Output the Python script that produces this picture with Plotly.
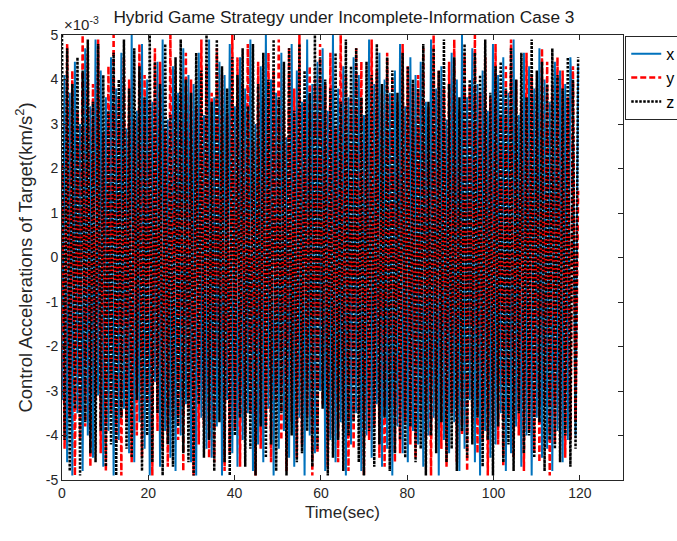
import numpy as np
import plotly.graph_objects as go

# Values in units of 1e-3 km/s^2 (axis shows x10^-3)
x_vals = [
    -3.2, 4.1, -4.6, 3.7, -4.9, 4.4, -3.5, 3.0, -4.8, 4.7,
    -4.0, 3.4, -4.5, 4.9, -3.1, 4.2, -4.7, 3.6, -3.9, 4.5,
    -4.9, 3.8, -4.1, 4.6, -3.4, 2.9, -4.4, 5.0, -4.6, 3.3,
    -3.7, 4.8, -4.3, 4.0, -4.9, 3.5, -2.8, 4.4, -4.7, 4.9,
    -3.9, 3.1, -4.5, 4.3, -4.8, 3.7, -4.0, 4.7, -3.3, 4.1,
    -4.6, 3.9, -4.9, 4.6, -3.6, 3.2, -4.3, 4.9, -4.5, 3.6,
    -3.8, 4.4, -4.9, 4.1, -3.2, 4.8, -4.4, 3.4, -4.7, 4.5,
    -4.1, 3.8, -3.5, 4.9, -4.8, 3.0, -4.2, 4.3, -4.6, 5.0,
    -3.4, 4.0, -4.9, 3.7, -4.3, 4.6, -3.9, 2.7, -4.5, 4.8,
    -4.7, 4.2, -3.6, 3.5, -4.9, 4.9, -4.0, 3.9, -4.4, 4.4,
    -3.0, 4.7, -4.8, 3.3, -4.1, 5.0, -4.6, 3.8, -3.7, 4.3,
    -4.9, 3.6, -4.2, 4.5, -3.5, 4.1, -4.8, 3.2, -4.0, 4.9,
    -4.5, 3.9, -3.3, 4.6, -4.7, 4.0, -4.3, 3.7, -4.9, 4.2,
    -3.8, 4.8, -4.4, 3.4, -4.6, 4.5, -3.9, 4.1, -4.2, 4.4,
    -4.7, 3.5, -4.0, 4.9, -3.6, 3.8, -4.9, 4.3, -4.1, 3.1,
    -4.4, 4.6, -3.7, 4.0, -4.8, 5.0, -4.3, 3.6, -3.2, 4.7,
    -4.6, 3.9, -4.9, 4.2, -3.9, 3.3, -4.5, 4.8, -4.2, 4.1,
    -3.5, 4.5, -4.8, 3.7, -4.4, 4.9, -3.8, 3.2, -4.7, 4.6,
    -4.0, 4.3, -4.9, 3.8, -3.6, 4.7, -4.5, 4.0, -4.3, 3.5,
    -4.8, 4.4, -3.9, 4.2, -4.6, 3.9, -4.1, 4.5, 2.9, -4.0,
    4.3,
]
y_vals = [
    2.1, -4.3, 4.8, -3.6, 4.2, -4.9, 3.3, -4.1, 5.0, -3.8,
    4.6, -4.7, 3.9, -3.2, 4.9, -4.4, 2.8, -4.8, 4.3, -3.5,
    5.0, -4.2, 3.6, -4.9, 4.5, -3.7, 4.0, -4.6, 3.1, -4.0,
    4.8, -4.5, 4.1, -3.3, 3.5, -4.9, 4.7, -3.9, 4.4, -4.3,
    2.9, -4.7, 5.0, -3.6, 4.2, -4.1, 3.8, -4.8, 4.6, -3.4,
    4.0, -4.9, 3.4, -4.2, 4.9, -3.8, 4.3, -4.5, 3.7, -4.6,
    4.7, -3.1, 4.1, -4.8, 3.2, -4.4, 5.0, -3.9, 4.5, -4.7,
    3.9, -4.0, 4.8, -3.5, 2.6, -4.9, 4.4, -4.3, 3.6, -3.8,
    4.6, -4.6, 4.2, -3.2, 4.9, -4.1, 3.3, -4.8, 4.7, -3.7,
    3.8, -4.5, 5.0, -4.2, 3.5, -3.6, 4.3, -4.9, 4.0, -4.4,
    4.8, -3.3, 3.9, -4.7, 4.6, -4.0, 2.9, -4.6, 5.0, -3.9,
    4.1, -4.8, 3.6, -4.3, 4.7, -3.5, 4.4, -4.9, 3.2, -4.1,
    4.9, -3.8, 4.2, -4.5, 3.7, -4.7, 4.6, -3.4, 4.0, -4.6,
    3.5, -4.4, 4.8, -3.7, 4.3, -4.2, 3.9, -4.5, 4.1, -3.6,
    4.7, -4.1, 3.4, -4.9, 5.0, -3.9, 4.2, -4.3, 3.8, -4.7,
    4.4, -3.5, 4.9, -4.6, 3.3, -4.0, 4.6, -4.8, 3.9, -3.7,
    5.0, -4.4, 3.7, -4.1, 4.5, -4.9, 3.6, -3.8, 4.8, -4.2,
    3.2, -4.7, 4.3, -3.6, 4.9, -4.5, 4.0, -4.0, 3.5, -4.8,
    4.6, -3.9, 4.1, -4.4, 3.8, -4.6, 4.7, -3.3, 4.4, -4.9,
    3.9, -4.2, 4.5, -3.8, 4.2, -4.5, 3.6, -4.1, 4.3, -3.7,
    1.5,
]
z_vals = [
    5.0, -4.1, 4.7, -4.8, 3.9, -3.4, 4.5, -4.9, 4.2, -3.7,
    4.9, -4.4, 3.5, -4.6, 4.8, -3.9, 4.1, -4.7, 3.3, -4.2,
    4.6, -4.9, 4.0, -3.6, 4.9, -4.3, 3.8, -4.5, 4.7, -3.2,
    4.3, -4.8, 3.6, -4.0, 5.0, -4.6, 4.4, -3.5, 3.9, -4.9,
    4.8, -4.2, 3.2, -4.7, 4.5, -3.8, 4.9, -4.4, 4.0, -4.6,
    3.7, -4.9, 4.6, -3.3, 4.2, -4.5, 5.0, -4.1, 3.5, -4.8,
    4.9, -3.7, 4.3, -4.6, 3.8, -4.9, 4.5, -4.0, 4.1, -3.6,
    4.7, -4.7, 3.4, -4.3, 4.8, -4.9, 3.9, -3.8, 4.6, -4.5,
    4.0, -4.2, 4.9, -4.8, 3.6, -3.5, 4.4, -4.9, 4.7, -4.0,
    3.3, -4.6, 4.8, -4.4, 4.2, -3.9, 3.7, -4.7, 5.0, -4.3,
    4.5, -3.4, 4.0, -4.9, 3.8, -4.5, 4.6, -4.1, 3.5, -4.8,
    4.9, -4.0, 4.3, -3.7, 4.7, -4.6, 3.6, -4.9, 4.4, -3.9,
    4.1, -4.7, 4.8, -4.2, 3.9, -3.6, 4.5, -4.8, 4.2, -4.4,
    3.7, -4.1, 4.6, -4.5, 4.3, -3.8, 4.0, -4.6, 3.8, -4.3,
    4.8, -4.9, 3.5, -4.0, 4.7, -4.4, 4.2, -3.7, 4.9, -4.6,
    3.9, -4.3, 4.5, -4.8, 3.6, -3.9, 4.8, -4.5, 4.0, -4.2,
    4.6, -3.6, 4.1, -4.7, 4.9, -4.1, 3.7, -4.9, 4.3, -3.8,
    4.4, -4.6, 3.8, -4.2, 4.7, -4.8, 4.0, -3.5, 4.6, -4.4,
    3.6, -4.0, 4.9, -4.5, 4.2, -3.7, 4.4, -4.8, 3.9, -4.1,
    4.7, -4.3, 4.1, -4.6, 3.8, -4.0, 4.5, -4.7, 4.0, -4.3,
    4.5,
]
t_end = 119.6
time = np.linspace(0, t_end, len(x_vals))

x_ticks = [0, 20, 40, 60, 80, 100, 120]
y_ticks = [-5, -4, -3, -2, -1, 0, 1, 2, 3, 4, 5]

series = [
    ("x", x_vals, "#0072BD", "solid", 2),
    ("y", y_vals, "#FF0000", "6px,3px", 2.5),
    ("z", z_vals, "#000000", "2.5px,1.5px", 2.5),
]

fig = go.Figure()
for name, vals, color, dash, w in series:
    fig.add_trace(go.Scatter(
        x=time, y=vals, mode="lines", name=name,
        line=dict(color=color, width=w, dash=dash),
    ))

font_family = "Liberation Sans, Arial, sans-serif"
axis_common = dict(
    showline=True, linecolor="#262626", linewidth=1, mirror="ticks",
    ticks="inside", ticklen=5, tickcolor="#262626",
    showgrid=False, zeroline=False,
    tickfont=dict(family=font_family, size=14, color="#262626"),
)

fig.update_layout(
    width=677, height=541,
    margin=dict(l=62, r=54, t=35, b=61, autoexpand=False),
    plot_bgcolor="white", paper_bgcolor="white",
    font=dict(family=font_family, size=14, color="#262626"),
    title=dict(
        text="Hybrid Game Strategy under Incomplete-Information Case 3",
        x=0.508, xanchor="center", y=0.968, yanchor="middle",
        font=dict(family=font_family, size=17.3, color="#1a1a1a"),
    ),
    xaxis=dict(
        range=[0, 130], tickvals=x_ticks, ticktext=[str(v) for v in x_ticks],
        title=dict(text="Time(sec)", font=dict(family=font_family, size=17, color="#262626"), standoff=6),
        **axis_common,
    ),
    yaxis=dict(
        range=[-5, 5], tickvals=y_ticks, ticktext=[str(v) for v in y_ticks],
        title=dict(text="Control Accelerations of Target(km/s<sup>2</sup>)",
                   font=dict(family=font_family, size=18.5, color="#262626"), standoff=8),
        **axis_common,
    ),
    legend=dict(
        x=1.004, y=0.998, xanchor="left", yanchor="top",
        bordercolor="#262626", borderwidth=1, bgcolor="white",
        font=dict(family=font_family, size=16, color="#000000"),
        itemwidth=30,
    ),
    showlegend=True,
)

fig.add_annotation(
    text="×10<sup>-3</sup>", xref="paper", yref="paper", x=0.0, y=1.0,
    xanchor="left", yanchor="bottom", showarrow=False,
    font=dict(family=font_family, size=15, color="#262626"),
)

fig.write_html("out.html", config={"displayModeBar": False},
               post_script="document.body.style.margin='0px';")
